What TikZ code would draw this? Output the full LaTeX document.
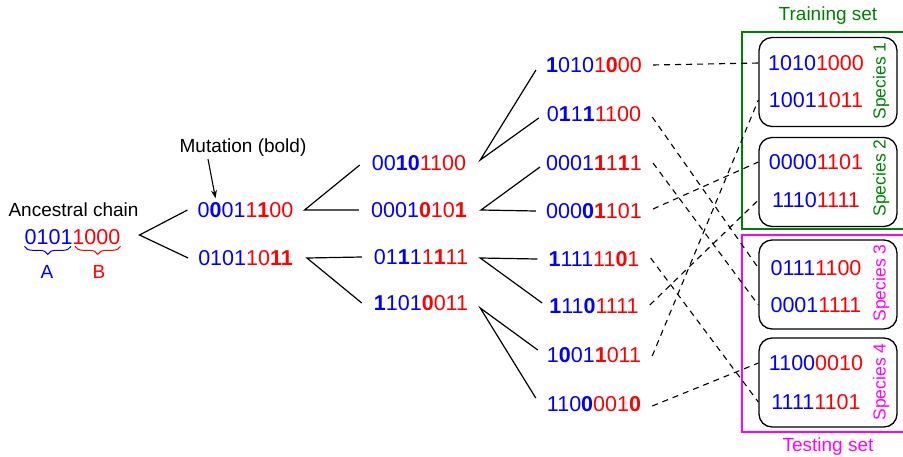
\documentclass[tikz,border=0pt]{standalone}
\usepackage{fontspec}
\setmainfont{Liberation Sans}
\usetikzlibrary{decorations.pathreplacing,arrows.meta}
\definecolor{tgreen}{RGB}{0,128,0}
\definecolor{tmag}{RGB}{255,0,255}
\newcommand{\bd}[1]{\textbf{#1}}
\newcommand{\chain}[2]{\textcolor{blue}{#1}\textcolor{red}{#2}}
\begin{document}
\begin{tikzpicture}[x=1pt,y=-1pt,
 seq/.style={inner sep=0pt,font=\fontsize{21.5}{24}\selectfont},
 lab/.style={inner sep=0pt,font=\fontsize{19}{22}\selectfont},
 spl/.style={inner sep=0pt,rotate=90,font=\fontsize{17.5}{20}\selectfont},
 branch/.style={line width=1.2pt},
 link/.style={line width=1.1pt,dash pattern=on 6pt off 5pt},
 spbox/.style={draw,line width=1.3pt,rounded corners=13pt,minimum width=138pt,minimum height=89pt,inner sep=0pt},
 setbox/.style={draw,line width=2pt,minimum width=173pt,minimum height=197pt,inner sep=0pt},
 abrace/.style={line width=1pt,decorate,decoration={brace,mirror,amplitude=8pt}},
]
\useasboundingbox (0,0) rectangle (903,456);

% sets
\node[setbox,tgreen] (train) at (828.5,130.5) {};
\node[lab,tgreen] (trainlab) at (828,16) {Training set};
\node[setbox,tmag] (test) at (828.5,333.5) {};
\node[lab,tmag] (testlab) at (828,447) {Testing set};

% species boxes
\node[spbox] (sp1) at (828,82) {};
\node[spbox] (sp2) at (828,182) {};
\node[spbox] (sp3) at (828,284.5) {};
\node[spbox] (sp4) at (828,382.5) {};
\node[spl,tgreen] (sl1) at (881,81) {Species 1};
\node[spl,tgreen] (sl2) at (881,178) {Species 2};
\node[spl,tmag] (sl3) at (881,283) {Species 3};
\node[spl,tmag] (sl4) at (881,382) {Species 4};
\node[seq] (s1a) at (816,63) {\chain{1010}{1000}};
\node[seq] (s1b) at (816,100) {\chain{1001}{1011}};
\node[seq] (s2a) at (816,162) {\chain{0000}{1101}};
\node[seq] (s2b) at (816,200) {\chain{1110}{1111}};
\node[seq] (s3a) at (816,268) {\chain{0111}{1100}};
\node[seq] (s3b) at (816,305) {\chain{0001}{1111}};
\node[seq] (s4a) at (816,363) {\chain{1100}{0010}};
\node[seq] (s4b) at (816,402) {\chain{1111}{1101}};

% ancestral chain
\node[lab] (anc) at (73.5,210) {Ancestral chain};
\node[seq] (root) at (72.5,237) {\chain{0101}{1000}};
\draw[blue,abrace] ([yshift=-1.5pt]root.south west) -- ([xshift=-1.5pt,yshift=-1.5pt]root.south);
\draw[red,abrace] ([xshift=2.5pt,yshift=-1.5pt]root.south) -- ([yshift=-1.5pt]root.south east);
\node[lab,blue] (la) at (47,272) {A};
\node[lab,red] (lb) at (99,272) {B};

% level 1
\node[seq] (l1a) at (245.5,210) {\chain{0\bd{0}01}{1\bd{1}00}};
\node[seq] (l1b) at (245.5,258) {\chain{0101}{10\bd{11}}};
\node[lab] (mut) at (243,148) {Mutation (bold)};
\draw[line width=1.1pt,-{Stealth[length=8pt,width=6pt]}] ([xshift=-35pt,yshift=-2pt]mut.south) -- ([xshift=18pt,yshift=4pt]l1a.north west);

% level 2
\node[seq] (l2a) at (419,163) {\chain{00\bd{10}}{1100}};
\node[seq] (l2b) at (419,210) {\chain{0001}{\bd{0}10\bd{1}}};
\node[seq] (l2c) at (421,257) {\chain{01\bd{1}1}{1\bd{1}11}};
\node[seq] (l2d) at (421,303) {\chain{\bd{1}101}{\bd{0}011}};

% level 3
\node[seq] (l3a) at (594,65) {\chain{\bd{1}010}{1\bd{0}00}};
\node[seq] (l3b) at (594,114) {\chain{0\bd{1}1\bd{1}}{1100}};
\node[seq] (l3c) at (594,163) {\chain{0001}{\bd{1}1\bd{1}1}};
\node[seq] (l3d) at (594,211) {\chain{000\bd{0}}{\bd{1}101}};
\node[seq] (l3e) at (594,259) {\chain{\bd{1}111}{11\bd{0}1}};
\node[seq] (l3f) at (594,306) {\chain{\bd{1}11\bd{0}}{1111}};
\node[seq] (l3g) at (594,355) {\chain{1\bd{0}01}{\bd{1}011}};
\node[seq] (l3h) at (594,404) {\chain{110\bd{0}}{001\bd{0}}};

% branches
\draw[branch] ([xshift=-10pt]l1a.west) -- ([xshift=19pt,yshift=2pt]root.east) -- ([xshift=-10pt]l1b.west);
\draw[branch] ([xshift=-12pt,yshift=-2pt]l2a.west) -- ([xshift=11pt]l1a.east) -- ([xshift=-12pt]l2b.west);
\draw[branch] ([xshift=-12pt]l2c.west) -- ([xshift=14pt]l1b.east) -- ([xshift=-12pt]l2d.west);
\draw[branch] ([xshift=-10pt,yshift=-5pt]l3a.west) -- ([xshift=14pt,yshift=3pt]l2a.east) -- ([xshift=-8pt,yshift=-4pt]l3b.west);
\draw[branch] ([xshift=-6pt,yshift=-4pt]l3c.west) -- ([xshift=14pt]l2b.east) -- ([xshift=-10pt]l3d.west);
\draw[branch] ([xshift=-11pt]l3e.west) -- ([xshift=12pt,yshift=-1pt]l2c.east) -- ([xshift=-7pt,yshift=3pt]l3f.west);
\draw[branch] ([xshift=-9pt,yshift=5pt]l3g.west) -- ([xshift=12pt,yshift=-5pt]l2d.east) -- ([xshift=-11pt,yshift=6pt]l3h.west);

% links
\draw[link] ([xshift=11pt]l3a.east) -- (sp1.west |- s1a);
\draw[link] ([xshift=11pt,yshift=-3pt]l3b.east) -- (sp3.west |- s3a);
\draw[link] ([xshift=11pt]l3c.east) -- (sp3.west |- s3b);
\draw[link] ([xshift=11pt,yshift=2pt]l3d.east) -- (sp2.west |- s2a);
\draw[link] ([xshift=11pt,yshift=1pt]l3e.east) -- (sp4.west |- s4b);
\draw[link] ([xshift=11pt,yshift=1pt]l3f.east) -- (sp2.west |- s2b);
\draw[link] ([xshift=11pt,yshift=-1pt]l3g.east) -- (sp1.west |- s1b);
\draw[link] ([xshift=11pt,yshift=-2pt]l3h.east) -- (sp4.west |- s4a);
\end{tikzpicture}
\end{document}
